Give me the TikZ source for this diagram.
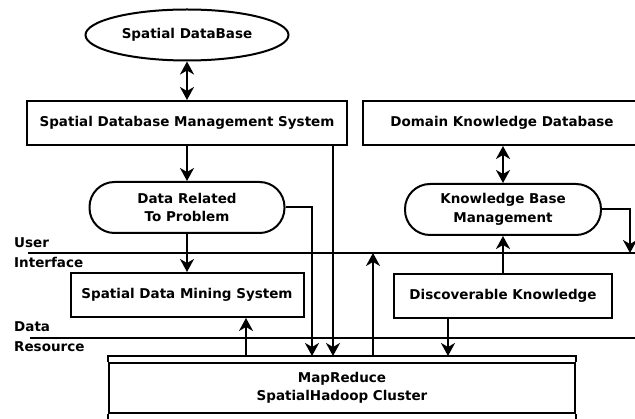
\documentclass[tikz,border=0pt]{standalone}
\usepackage{fontspec}
\setmainfont{DejaVu Sans}
\usetikzlibrary{shapes.geometric,arrows.meta,calc}
\begin{document}
\begin{tikzpicture}[x=1pt,y=-1pt,
  every node/.style={font=\bfseries\fontsize{13.5}{18.5}\selectfont, inner sep=0pt, align=center},
  box/.style={draw, line width=2pt, minimum width=#1, minimum height=44pt},
  pill/.style={draw, line width=2pt, rounded corners=25pt, minimum width=#1, minimum height=51pt},
  tip/.tip={Stealth[length=13pt,width=14pt,inset=4pt]},
  arr/.style={line width=2pt, -tip},
  darr/.style={line width=2pt, tip-tip},
  sep/.style={line width=2pt}]
\useasboundingbox (0,0) rectangle (635,419);

% components
\node[ellipse, draw, line width=2pt, minimum width=203pt, minimum height=51pt] (sdb) at (187,35) {Spatial DataBase};
\node[box=320pt] (sdbms) at (187,123) {Spatial Database Management System};
\node[box=278pt] (dkd) at (502,123) {Domain Knowledge Database};
\node[pill=195pt] (drp) at (187,207.5) {Data Related\\To Problem};
\node[pill=196pt] (kbm) at (503,209.5) {Knowledge Base\\Management};
\node[box=233pt] (sdms) at (187,295) {Spatial Data Mining System};
\node[box=218pt] (dk) at (503,296) {Discoverable Knowledge};
\node[draw, line width=2pt, minimum width=466pt, minimum height=50pt] (mr) at (342,388) {MapReduce\\SpatialHadoop Cluster};

% header and lower compartment of the cluster box
\coordinate (mrtop) at ([yshift=6pt]mr.north);
\draw[line width=2pt] (mr.north west) -- (mr.north west |- mrtop) -- (mr.north east |- mrtop) -- (mr.north east);
\draw[line width=2pt] (mr.south west) -- ([yshift=-20pt]mr.south west);
\draw[line width=2pt] (mr.south east) -- ([yshift=-20pt]mr.south east);

% layer separators
\coordinate (uiL) at (28,253);
\coordinate (uiR) at (640,253);
\coordinate (drL) at (30,338);
\coordinate (drR) at (640,338);
\draw[sep] (uiL) -- (uiR);
\draw[sep] (drL) -- (drR);
\node[anchor=west, align=left, font=\bfseries\fontsize{13.5}{20}\selectfont] (uilab) at (14,253) {User\\Interface};
\node[anchor=west, align=left, font=\bfseries\fontsize{13.5}{20}\selectfont] (drlab) at (14,337) {Data\\Resource};

% helper points on the connectors
\coordinate (a1) at ([xshift=-30pt]mrtop);
\coordinate (a2) at ([xshift=146pt]sdbms.south);
\coordinate (a3) at ([xshift=-96pt]mrtop);
\coordinate (a4) at ([xshift=31pt]mrtop);
\coordinate (a5) at ([xshift=-55pt]dk.south);
\coordinate (kdrop) at (630,253);

% connectors
\draw[darr] (sdb.south) -- (sdbms.north);
\draw[arr] (sdbms.south) -- (drp.north);
\draw[arr] (drp.south) -- (sdms.north);
\draw[arr] (drp.east) -| (a1);
\draw[arr] (a2) -- (a2 |- mrtop);
\draw[arr] (a3) -- (a3 |- sdms.south);
\draw[arr] (a4) -- (a4 |- uiL);
\draw[arr] (dk.north) -- (kbm.south);
\draw[arr] (a5) -- (a5 |- mrtop);
\draw[darr] (kbm.north |- dkd.south) -- (kbm.north);
\draw[arr] (kbm.east) -| (kdrop);
\end{tikzpicture}
\end{document}
